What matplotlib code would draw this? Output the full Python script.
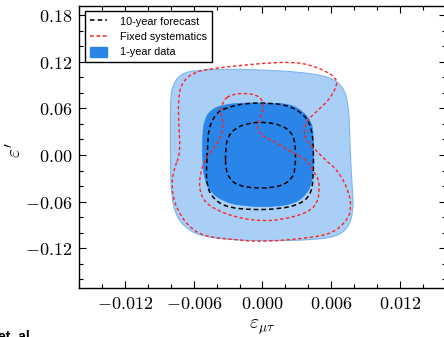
import matplotlib
matplotlib.use('Agg')
import matplotlib.pyplot as plt
from matplotlib.ticker import MultipleLocator, FixedLocator, FixedFormatter
from matplotlib.lines import Line2D
from matplotlib.patches import Patch, PathPatch
from matplotlib.path import Path

plt.rcParams['mathtext.fontset'] = 'cm'

# ---- data: contour outlines (eps_mutau, eps') ----
data90_x = [-0.00804, -0.00786, -0.00716, -0.00585, -0.00279, 0.0, 0.00332, 0.00594, 0.00707,
            0.00751, 0.00760, 0.00769, 0.00786, 0.00795, 0.00751, 0.00638, 0.00419, 0.00070,
            -0.00279, -0.00542, -0.00673, -0.00760, -0.00795, -0.00804, -0.00804]
data90_y = [0.0707, 0.0900, 0.1041, 0.1092, 0.1105, 0.1092, 0.1067, 0.1002, 0.0874,
            0.0643, 0.0321, -0.0064, -0.0450, -0.0707, -0.0938, -0.1054, -0.1092, -0.1105,
            -0.1092, -0.1041, -0.0938, -0.0771, -0.0514, -0.0193, 0.0321]

data68_x = [-0.00524, -0.00507, -0.00454, -0.00349, -0.00192, 0.00026, 0.00245, 0.00358, 0.00428,
            0.00445, 0.00445, 0.00428, 0.00376, 0.00288, 0.00114, -0.00192, -0.00349, -0.00454,
            -0.00507, -0.00524]
data68_y = [0.0257, 0.0450, 0.0578, 0.0643, 0.0668, 0.0668, 0.0655, 0.0553, 0.0424,
            0.0257, -0.0193, -0.0386, -0.0514, -0.0617, -0.0668, -0.0655, -0.0591, -0.0475,
            -0.0321, -0.0064]

fc90_x = [-0.00480, -0.00472, -0.00403, -0.00323, -0.00148, 0.00070, 0.00245, 0.00376, 0.00428,
          0.00445, 0.00445, 0.00419, 0.00332, 0.00157, -0.00105, -0.00323, -0.00437, -0.00489,
          -0.00489]
fc90_y = [0.0064, 0.0347, 0.0540, 0.0604, 0.0668, 0.0668, 0.0630, 0.0501, 0.0347,
          0.0129, -0.0321, -0.0514, -0.0630, -0.0694, -0.0707, -0.0668, -0.0553, -0.0386,
          -0.0129]

fc68_x = [-0.00323, -0.00306, -0.00236, -0.00122, 0.00026, 0.00157, 0.00245, 0.00288, 0.00288,
          0.00253, 0.00183, 0.00070, -0.00105, -0.00218, -0.00279, -0.00323]
fc68_y = [0.0064, 0.0231, 0.0347, 0.0411, 0.0424, 0.0386, 0.0308, 0.0167, -0.0193,
          -0.0308, -0.0386, -0.0424, -0.0424, -0.0386, -0.0321, -0.0193]

fs90_x = [-0.00716, -0.00734, -0.00734, -0.00699, -0.00611, -0.00472, -0.00236, 0.00026, 0.00271,
          0.00419, 0.00568, 0.00638, 0.00655, 0.00594, 0.00507, 0.00419, 0.00376, 0.00358,
          0.00393, 0.00480, 0.00568, 0.00655, 0.00751, 0.00777, 0.00742, 0.00620, 0.00419,
          -0.00017, -0.00210, -0.00498, -0.00646, -0.00760, -0.00795, -0.00777]
fs90_y = [0.0026, 0.0424, 0.0771, 0.0938, 0.1054, 0.1105, 0.1144, 0.1182, 0.1195,
          0.1157, 0.1067, 0.0989, 0.0912, 0.0732, 0.0604, 0.0488, 0.0411, 0.0283,
          0.0167, 0.0039, -0.0090, -0.0193, -0.0450, -0.0681, -0.0835, -0.1002, -0.1067,
          -0.1118, -0.1092, -0.1054, -0.0925, -0.0668, -0.0411, -0.0193]

fs68_x = [-0.00279, -0.00166, -0.00044, 0.00009, 0.0, -0.00044, -0.00044, 0.00009, 0.00131,
          0.00218, 0.00358, 0.00419, 0.00445, 0.00489, 0.00498, 0.00480, 0.00393, 0.00157,
          -0.00017, -0.00210, -0.00410, -0.00524, -0.00559, -0.00515, -0.00454, -0.00384,
          -0.00341, -0.00349, -0.00367, -0.00341]
fs68_y = [0.0771, 0.0797, 0.0771, 0.0681, 0.0540, 0.0411, 0.0321, 0.0231, 0.0154,
          0.0064, -0.0039, -0.0129, -0.0218, -0.0296, -0.0450, -0.0617, -0.0745, -0.0835,
          -0.0848, -0.0810, -0.0707, -0.0578, -0.0360, -0.0090, 0.0039, 0.0167,
          0.0347, 0.0424, 0.0553, 0.0707]

xtick_vals = [-0.012, -0.006, 0.0, 0.006, 0.012]
xtick_labels = ['$-0.012$', '$-0.006$', '$0.000$', '$0.006$', '$0.012$']
ytick_vals = [-0.12, -0.06, 0.0, 0.06, 0.12, 0.18]
ytick_labels = ['$-0.12$', '$-0.06$', '$0.00$', '$0.06$', '$0.12$', '$0.18$']

legend_labels = ['10-year forecast', 'Fixed systematics', '1-year data']

# ---- styles ----
light = '#aacff6'
light_edge = '#7db5ef'
dark = '#2a85e8'
red = '#ff2222'
black_dash = (0, (3.0, 2.0))
red_dash = (0, (2.4, 1.8))


def smooth_closed_path(xs, ys):
    """Closed quadratic-Bezier path using the given vertices as control points."""
    pts = list(zip(xs, ys))
    n = len(pts)
    mids = [((pts[i][0] + pts[(i + 1) % n][0]) / 2, (pts[i][1] + pts[(i + 1) % n][1]) / 2)
            for i in range(n)]
    verts = [mids[-1]]
    codes = [Path.MOVETO]
    for i in range(n):
        verts += [pts[i], mids[i]]
        codes += [Path.CURVE3, Path.CURVE3]
    return Path(verts, codes)


fig = plt.figure(figsize=(4.44, 3.37), dpi=100)
ax = fig.add_axes([0.1786, 0.1454, 0.8252, 0.8368])

ax.add_patch(PathPatch(smooth_closed_path(data90_x, data90_y), facecolor=light,
                       edgecolor=light_edge, lw=0.8, zorder=1))
ax.add_patch(PathPatch(smooth_closed_path(data68_x, data68_y), facecolor=dark,
                       edgecolor=dark, lw=0.5, zorder=2))
for xs, ys in [(fc90_x, fc90_y), (fc68_x, fc68_y)]:
    ax.add_patch(PathPatch(smooth_closed_path(xs, ys), fill=False, edgecolor='black',
                           lw=1.1, linestyle=black_dash, zorder=3))
for xs, ys in [(fs90_x, fs90_y), (fs68_x, fs68_y)]:
    ax.add_patch(PathPatch(smooth_closed_path(xs, ys), fill=False, edgecolor=red,
                           lw=1.0, linestyle=red_dash, zorder=4))

ax.set_xlim(-0.016, 0.016)
ax.set_ylim(-0.171, 0.1915)

ax.xaxis.set_major_locator(FixedLocator(xtick_vals))
ax.xaxis.set_major_formatter(FixedFormatter(xtick_labels))
ax.yaxis.set_major_locator(FixedLocator(ytick_vals))
ax.yaxis.set_major_formatter(FixedFormatter(ytick_labels))
ax.xaxis.set_minor_locator(MultipleLocator(0.002))
ax.yaxis.set_minor_locator(MultipleLocator(0.02))
ax.tick_params(which='both', direction='in', top=True, right=True, labelsize=13, width=0.8)
ax.tick_params(which='major', length=5, pad=5)
ax.tick_params(which='minor', length=3)
for s in ax.spines.values():
    s.set_linewidth(1.0)

ax.set_xlabel(r'$\varepsilon_{\mu\tau}$', fontsize=14)
ax.set_ylabel(r"$\varepsilon'$", fontsize=14)
ax.xaxis.set_label_coords(0.5, -0.105)
ax.yaxis.set_label_coords(-0.148, 0.49)

handles = [Line2D([], [], color='black', lw=1.1, linestyle=black_dash),
           Line2D([], [], color=red, lw=1.1, linestyle=red_dash),
           Patch(facecolor=dark, edgecolor=dark)]
leg = ax.legend(handles, legend_labels, loc='upper left', bbox_to_anchor=(0.0156, 0.982),
                borderaxespad=0, fancybox=False, framealpha=1, edgecolor='black',
                prop={'family': 'Liberation Sans', 'size': 7.8}, handlelength=1.6,
                handleheight=1.0, handletextpad=1.2, labelspacing=0.45, borderpad=0.45)
leg.get_frame().set_linewidth(1.0)
leg.set_zorder(10)

fig.text(-0.004, -0.012, 'et. al', fontsize=10, fontweight='bold',
         family='Liberation Sans', ha='left', va='baseline')

fig.savefig('out.png', dpi=100)
